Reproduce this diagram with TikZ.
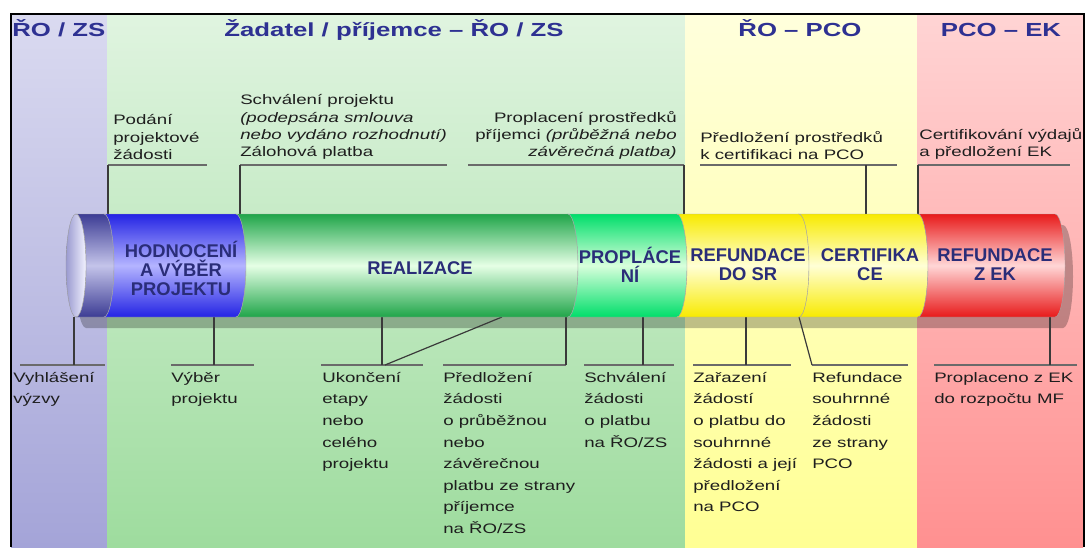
\documentclass[tikz,border=0pt]{standalone}
\usepackage{fontspec}
\setmainfont{Liberation Sans}
\newfontfamily\widefont[FakeStretch=1.36]{Liberation Sans}
\usetikzlibrary{calc}

\definecolor{headblue}{HTML}{2E3192}
\definecolor{tubeblue}{HTML}{2A2D78}
\definecolor{inktext}{HTML}{1E1E1E}
\definecolor{leadgray}{HTML}{3A3A3A}
\definecolor{ulgray}{HTML}{6A6A6A}
\definecolor{purpletop}{HTML}{DADAF0}
\definecolor{purplebot}{HTML}{A4A4D8}
\definecolor{greentop}{HTML}{E0F4E0}
\definecolor{greenbot}{HTML}{9EDC9E}
\definecolor{yellowtop}{HTML}{FFFFDC}
\definecolor{yellowbot}{HTML}{FFFF94}
\definecolor{redtop}{HTML}{FFD4D4}
\definecolor{redbot}{HTML}{FF9090}
\definecolor{ringdark}{HTML}{3C3C94}
\definecolor{ringmid}{HTML}{C4C4EA}
\definecolor{bluedark}{HTML}{2424E4}
\definecolor{bluemid}{HTML}{B4B4FF}
\definecolor{realdark}{HTML}{1FA549}
\definecolor{realmid}{HTML}{E6FFE6}
\definecolor{propdark}{HTML}{00DE6A}
\definecolor{propmid}{HTML}{D8FFDC}
\definecolor{yeldark}{HTML}{F8EA00}
\definecolor{yelmid}{HTML}{FFFFD6}
\definecolor{reddark}{HTML}{E81A1A}
\definecolor{redmid}{HTML}{FFD6D6}
\definecolor{facedark}{HTML}{9A9AD0}
\definecolor{facelight}{HTML}{F2F2FF}

\tikzset{
  heading/.style={font=\widefont\bfseries\fontsize{14.2}{16}\selectfont, text=headblue, inner sep=0pt},
  tubelabel/.style={font=\bfseries\fontsize{13.8}{14.25}\selectfont, text=tubeblue, align=center, inner sep=0pt},
  topnote/.style={font=\widefont\fontsize{10.3}{13}\selectfont, text=inktext, align=left, inner sep=0pt, anchor=south west},
  lownote/.style={font=\widefont\fontsize{10.3}{16.2}\selectfont, text=inktext, align=left, inner sep=0pt, anchor=north west},
  tubeseg/.style={draw=black!35, line width=0.3pt},
  leader/.style={draw=leadgray, line width=0.9pt},
  uline/.style={draw=ulgray, line width=1.3pt}
}

\begin{document}
\begin{tikzpicture}[x=0.75pt,y=0.75pt]
\useasboundingbox (0,0) rectangle (1086,-547);
\fill[white] (0,0) rectangle (1086,-547);
\shade[top color=purpletop, bottom color=purplebot] (11,-14) rectangle (107,-547);
\shade[top color=greentop, bottom color=greenbot] (107,-14) rectangle (685,-547);
\shade[top color=yellowtop, bottom color=yellowbot] (685,-14) rectangle (917,-547);
\shade[top color=redtop, bottom color=redbot] (917,-14) rectangle (1083,-547);
\draw[line width=1.5pt] (10.5,-547) -- (10.5,-13.5) -- (1083.5,-13.5) -- (1083.5,-547);

\node[heading, anchor=base west] (hdRO) at (12,-36) {ŘO / ZS};
\node[heading, anchor=base] (hdZadatel) at (394,-36) {Žadatel / příjemce – ŘO / ZS};
\node[heading, anchor=base] (hdROPCO) at (800,-36) {ŘO – PCO};
\node[heading, anchor=base] (hdPCOEK) at (1001,-36) {PCO – EK};

\coordinate (podJ) at (108,-165);
\coordinate (podR) at (207,-165);
\coordinate (podT) at (108,-214);
\coordinate (schJ) at (240,-165);
\coordinate (schR) at (447,-165);
\coordinate (schT) at (240,-214);
\coordinate (proL) at (468,-165);
\coordinate (proJ) at (684,-165);
\coordinate (proT) at (684,-214);
\coordinate (preL) at (700,-165);
\coordinate (preR) at (897,-165);
\coordinate (preJ) at (866,-165);
\coordinate (preT) at (866,-214);
\coordinate (cerJ) at (918,-165);
\coordinate (cerR) at (1070,-165);
\coordinate (cerT) at (918,-214);

\coordinate (vyhL) at (20,-365);
\coordinate (vyhR) at (105,-365);
\coordinate (vyhJ) at (74,-365);
\coordinate (vyhB) at (74,-317);
\coordinate (vybL) at (171,-365);
\coordinate (vybR) at (254,-365);
\coordinate (vybJ) at (214,-365);
\coordinate (vybB) at (214,-317);
\coordinate (ukoL) at (321,-365);
\coordinate (ukoR) at (423,-365);
\coordinate (ukoJ) at (382,-365);
\coordinate (ukoB) at (382,-317);
\coordinate (ukoD) at (385,-365);
\coordinate (zadB) at (502,-317);
\coordinate (przL) at (443,-365);
\coordinate (przJ) at (566,-365);
\coordinate (przB) at (566,-317);
\coordinate (szaL) at (584,-365);
\coordinate (szaR) at (674,-365);
\coordinate (szaJ) at (643,-365);
\coordinate (szaB) at (643,-317);
\coordinate (zarL) at (693,-365);
\coordinate (zarR) at (791,-365);
\coordinate (zarJ) at (746,-365);
\coordinate (zarB) at (746,-317);
\coordinate (refJ) at (812,-365);
\coordinate (refR) at (908,-365);
\coordinate (refB) at (799,-317);
\coordinate (ekL) at (934,-365);
\coordinate (ekR) at (1077,-365);
\coordinate (ekJ) at (1050,-365);
\coordinate (ekB) at (1050,-317);

\fill[black, opacity=0.25] (86,-225) -- (1063,-225) arc (90:-90:10 and 51.5) -- (86,-328) arc (270:90:10 and 51.5) -- cycle;

\draw[uline] (podJ) -- (podR);
\draw[uline] (schJ) -- (schR);
\draw[uline] (proL) -- (proJ);
\draw[uline] (preL) -- (preR);
\draw[uline] (cerJ) -- (cerR);
\draw[uline] (vyhL) -- (vyhR);
\draw[uline] (vybL) -- (vybR);
\draw[uline] (ukoL) -- (ukoR);
\draw[uline] (przL) -- (przJ);
\draw[uline] (szaL) -- (szaR);
\draw[uline] (zarL) -- (zarR);
\draw[uline] (refJ) -- (refR);
\draw[uline] (ekL) -- (ekR);

\draw[leader] (podJ) -- (podT);
\draw[leader] (schJ) -- (schT);
\draw[leader] (proJ) -- (proT);
\draw[leader] (preJ) -- (preT);
\draw[leader] (cerJ) -- (cerT);
\draw[leader] (vyhB) -- (vyhJ);
\draw[leader] (vybB) -- (vybJ);
\draw[leader] (ukoB) -- (ukoJ);
\draw[leader] (zadB) -- (ukoD);
\draw[leader] (przB) -- (przJ);
\draw[leader] (szaB) -- (szaJ);
\draw[leader] (zarB) -- (zarJ);
\draw[leader] (refB) -- (refJ);
\draw[leader] (ekB) -- (ekJ);

\shade[tubeseg, top color=ringdark, bottom color=ringdark, middle color=ringmid] (76,-214) -- (104,-214) arc (90:-90:10 and 51.5) -- (76,-317) arc (-90:90:10 and 51.5) -- cycle;
\shade[tubeseg, top color=bluedark, bottom color=bluedark, middle color=bluemid] (104,-214) -- (236,-214) arc (90:-90:10 and 51.5) -- (104,-317) arc (-90:90:10 and 51.5) -- cycle;
\shade[tubeseg, top color=realdark, bottom color=realdark, middle color=realmid] (236,-214) -- (568,-214) arc (90:-90:10 and 51.5) -- (236,-317) arc (-90:90:10 and 51.5) -- cycle;
\shade[tubeseg, top color=propdark, bottom color=propdark, middle color=propmid] (568,-214) -- (677,-214) arc (90:-90:10 and 51.5) -- (568,-317) arc (-90:90:10 and 51.5) -- cycle;
\shade[tubeseg, top color=yeldark, bottom color=yeldark, middle color=yelmid] (677,-214) -- (799,-214) arc (90:-90:10 and 51.5) -- (677,-317) arc (-90:90:10 and 51.5) -- cycle;
\shade[tubeseg, top color=yeldark, bottom color=yeldark, middle color=yelmid] (799,-214) -- (918,-214) arc (90:-90:10 and 51.5) -- (799,-317) arc (-90:90:10 and 51.5) -- cycle;
\shade[tubeseg, top color=reddark, bottom color=reddark, middle color=redmid] (918,-214) -- (1055,-214) arc (90:-90:10 and 51.5) -- (918,-317) arc (-90:90:10 and 51.5) -- cycle;
\shade[left color=facedark, right color=facelight, draw=black!40, line width=0.3pt] (76,-265.5) ellipse (10 and 51.5);

\node[tubelabel] (lblHodnoceni) at (181,-268) {HODNOCENÍ\\A VÝBĚR\\PROJEKTU};
\node[tubelabel] (lblRealizace) at (420,-268) {REALIZACE};
\node[tubelabel] (lblProplaceni) at (630,-265) {PROPLÁCE\\NÍ};
\node[tubelabel] (lblRefSR) at (748,-265) {REFUNDACE\\DO SR};
\node[tubelabel] (lblCertifikace) at (870,-265) {CERTIFIKA\\CE};
\node[tubelabel] (lblRefEK) at (995,-265) {REFUNDACE\\Z EK};

\node[topnote] (txtPodani) at (113,-160) {Podání\\projektové\\žádosti};
\node[topnote] (txtSchvaleni) at (240,-160) {Schválení projektu\\\textit{(podepsána smlouva}\\\textit{nebo vydáno rozhodnutí)}\\Zálohová platba};
\node[topnote, align=right, anchor=south east] (txtProplaceni) at (677,-160) {Proplacení prostředků\\příjemci \textit{(průběžná nebo}\\\textit{závěrečná platba)}};
\node[topnote] (txtPredlozeni) at (700,-160) {Předložení prostředků\\k certifikaci na PCO};
\node[topnote] (txtCertifikovani) at (919,-160) {Certifikování výdajů\\a předložení EK};

\node[lownote] (txtVyhlaseni) at (13,-372) {Vyhlášení\\výzvy};
\node[lownote] (txtVyber) at (171,-372) {Výběr\\projektu};
\node[lownote] (txtUkonceni) at (322,-372) {Ukončení\\etapy\\nebo\\celého\\projektu};
\node[lownote] (txtZadostPlatba) at (443,-372) {Předložení\\žádosti\\o průběžnou\\nebo\\závěrečnou\\platbu ze strany\\příjemce\\na ŘO/ZS};
\node[lownote] (txtSchvaleniZad) at (584,-372) {Schválení\\žádosti\\o platbu\\na ŘO/ZS};
\node[lownote] (txtZarazeni) at (693,-372) {Zařazení\\žádostí\\o platbu do\\souhrnné\\žádosti a její\\předložení\\na PCO};
\node[lownote] (txtRefundace) at (812,-372) {Refundace\\souhrnné\\žádosti\\ze strany\\PCO};
\node[lownote] (txtProplaceno) at (934,-372) {Proplaceno z EK\\do rozpočtu MF};
\end{tikzpicture}
\end{document}
